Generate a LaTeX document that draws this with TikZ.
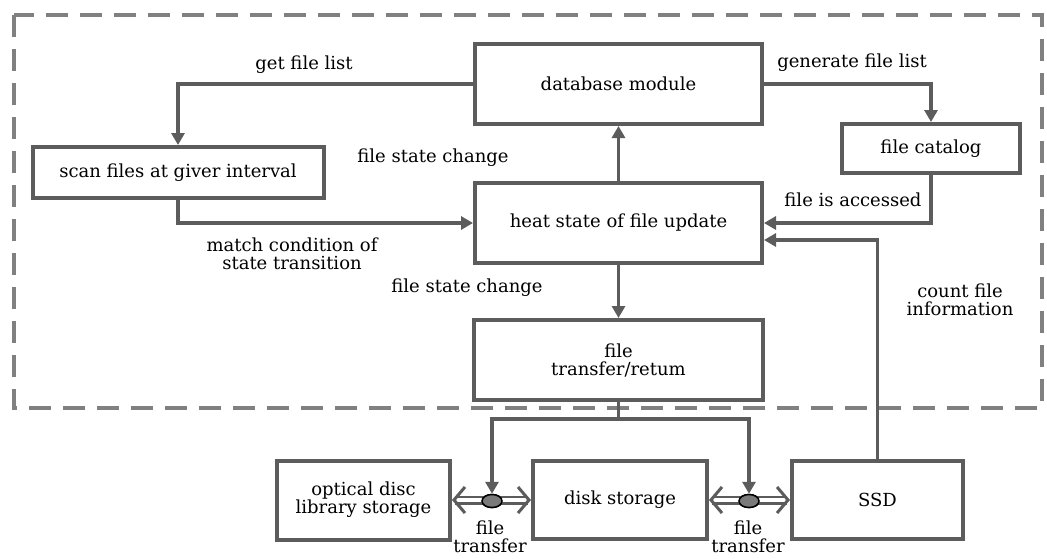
\documentclass[tikz,border=0pt]{standalone}
\usepackage{fontspec}
\setmainfont{DejaVu Serif}
\usetikzlibrary{arrows.meta,shapes.geometric,calc}
\definecolor{lc}{HTML}{5C5C5C}
\definecolor{dc}{HTML}{808080}
\definecolor{ec}{HTML}{7A7A7A}
\begin{document}
\begin{tikzpicture}[x=1pt,y=-1pt,
  box/.style={draw=lc,line width=4pt,fill=white,rectangle,inner sep=0pt,align=center,font=\fontsize{18}{18}\selectfont},
  lbl/.style={align=center,inner sep=0pt,font=\fontsize{18}{18}\selectfont},
  conn/.style={draw=lc,line width=3.5pt},
  arr/.style={conn,-{Triangle[length=12pt,width=13pt]}},
  mybarb/.tip={Straight Barb[length=11pt,width=26pt,line width=3pt]},
  dbl/.style={draw=lc,line width=2.5pt,double=white,double distance=4pt,{mybarb}-{mybarb}},
  knob/.style={ellipse,draw=black,line width=1.5pt,fill=ec,minimum width=20pt,minimum height=13pt,inner sep=0pt},
  frame/.style={draw=dc,line width=4pt,dash pattern=on 22pt off 12pt}]
\useasboundingbox[fill=white] (0,0) rectangle (1047,558);
\draw[frame] (14,15) rectangle (1042,408);
% boxes
\node[box,minimum width=287pt,minimum height=80pt] (db) at (618.5,84) {database module};
\node[box,minimum width=287pt,minimum height=80pt] (heat) at (618.5,223) {heat state of file update};
\node[box,minimum width=289pt,minimum height=80pt] (xfer) at (618.5,360) {file\\transfer/retum};
\node[box,minimum width=291pt,minimum height=51pt] (scan) at (178,172.5) {scan files at giver interval};
\node[box,minimum width=178pt,minimum height=49pt] (cat) at (931,148.5) {file catalog};
\node[box,minimum width=173pt,minimum height=79pt] (opt) at (363.5,500) {optical disc\\library storage};
\node[box,minimum width=174pt,minimum height=78pt] (disk) at (620,500) {disk storage};
\node[box,minimum width=171pt,minimum height=78pt] (ssd) at (877.5,500) {SSD};
% connectors
\draw[arr] (db.west) -| (scan.north);
\draw[arr] (heat.north) -- (db.south);
\draw[arr] (scan.south) |- (heat.west);
\draw[arr] (db.east) -| (cat.north);
\draw[arr] (cat.south) |- (heat.east);
\draw[arr] (ssd.north) |- ([yshift=-17pt]heat.east);
\draw[arr] (heat.south) -- (xfer.north);
% bottom transfer
\coordinate (j) at (618.5,419);
\node[knob] (k1) at (492,501) {};
\node[knob] (k2) at (749,501) {};
\draw[dbl] (opt.east) -- (disk.west);
\draw[dbl] (disk.east) -- (ssd.west);
\node[knob] at (k1) {};
\node[knob] at (k2) {};
\draw[conn] (xfer.south) -- (j);
\draw[arr] (j) -| (k1.north);
\draw[arr] (j) -| (k2.north);
% labels
\node[lbl] (l1) at (304,65) {get file list};
\node[lbl] (l2) at (433,158) {file state change};
\node[lbl] (l3) at (292,254) {match condition of\\state transition};
\node[lbl] (l4) at (467,288) {file state change};
\node[lbl] (l5) at (852,63) {generate file list};
\node[lbl] (l6) at (853,200) {file is accessed};
\node[lbl] (l7) at (960,300) {count file\\information};
\node[lbl] (l8) at (490,537) {file\\transfer};
\node[lbl] (l9) at (748,537) {file\\transfer};
\end{tikzpicture}
\end{document}
